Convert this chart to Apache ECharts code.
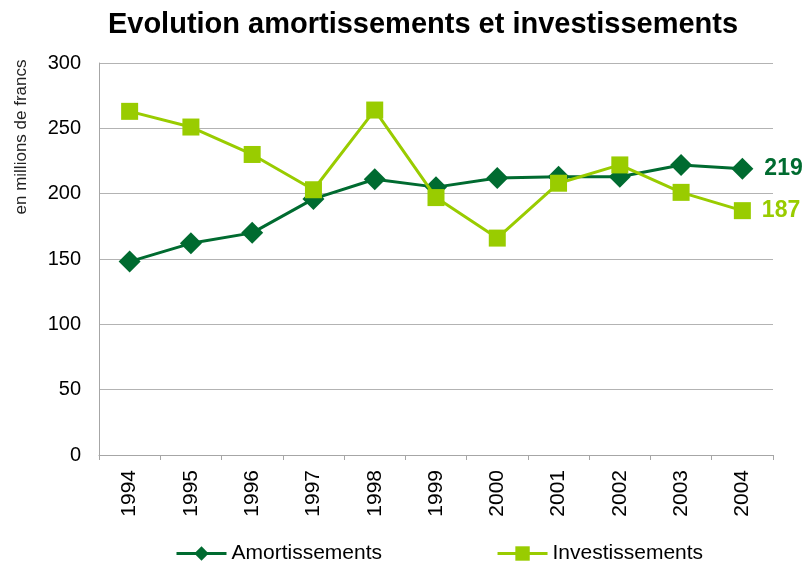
<!DOCTYPE html>
<html><head><meta charset="utf-8">
<script src="https://cdn.jsdelivr.net/npm/echarts@6/dist/echarts.min.js"></script>
<style>html,body{margin:0;padding:0;background:#fff}#c{width:805px;height:563px}</style>
</head><body><div id="c"></div>
<script>
var categories = ['1994','1995','1996','1997','1998','1999','2000','2001','2002','2003','2004'];
var amortissements = [148, 162, 170, 196, 211, 205, 212, 213, 213, 222, 219];
var investissements = [263, 251, 230, 203, 264, 197, 166, 208, 222, 201, 187];
var yTicks = [0, 50, 100, 150, 200, 250, 300];

var dark = '#006b30', light = '#99cc00';
var font = 'Liberation Sans, Arial, sans-serif';
var chart = echarts.init(document.getElementById('c'));
function lastLabel(color){
  return {show:true, position:'right', distance:11, fontSize:23, fontWeight:'bold', color:color, fontFamily:font,
    formatter:function(p){return p.dataIndex===categories.length-1 ? p.value : '';}};
}
chart.setOption({
  animation:false,
  title:{text:'Evolution amortissements et investissements', left:418, textAlign:'center', top:5,
    textStyle:{fontSize:29, fontWeight:'bold', color:'#000', fontFamily:font}},
  grid:{left:99, right:32, top:63, bottom:108},
  graphic:[{type:'text', x:21, y:137, rotation:Math.PI/2,
    style:{text:'en millions de francs', fontSize:17, fill:'#222', fontFamily:font, align:'center', verticalAlign:'middle'}}],
  legend:{top:543, left:175, padding:0, itemWidth:50, itemHeight:18, itemGap:114,
    lineStyle:{width:3},
    textStyle:{fontSize:21, color:'#000', fontFamily:font}},
  xAxis:{type:'category', data:categories, boundaryGap:true,
    axisLine:{lineStyle:{color:'#a6a6a6', width:1}},
    axisTick:{show:true, length:5, lineStyle:{color:'#a6a6a6'}},
    axisLabel:{rotate:90, fontSize:21, color:'#000', fontFamily:font, margin:15}},
  yAxis:{type:'value', min:0, max:300, interval:50,
    axisLine:{show:true, lineStyle:{color:'#a6a6a6'}},
    axisTick:{show:false},
    splitLine:{lineStyle:{color:'#b3b3b3', width:1}},
    axisLabel:{fontSize:20, color:'#000', fontFamily:font, margin:18,
      formatter:function(v){return yTicks.indexOf(v)>=0 ? String(v) : '';}}},
  series:[
    {name:'Amortissements', type:'line', data:amortissements, symbol:'diamond', symbolSize:[22,22],
      lineStyle:{color:dark, width:3}, itemStyle:{color:dark}, label:lastLabel(dark), z:2},
    {name:'Investissements', type:'line', data:investissements, symbol:'rect', symbolSize:[17,17],
      lineStyle:{color:light, width:3}, itemStyle:{color:light}, label:lastLabel(light), z:3}
  ]
});
</script></body></html>
